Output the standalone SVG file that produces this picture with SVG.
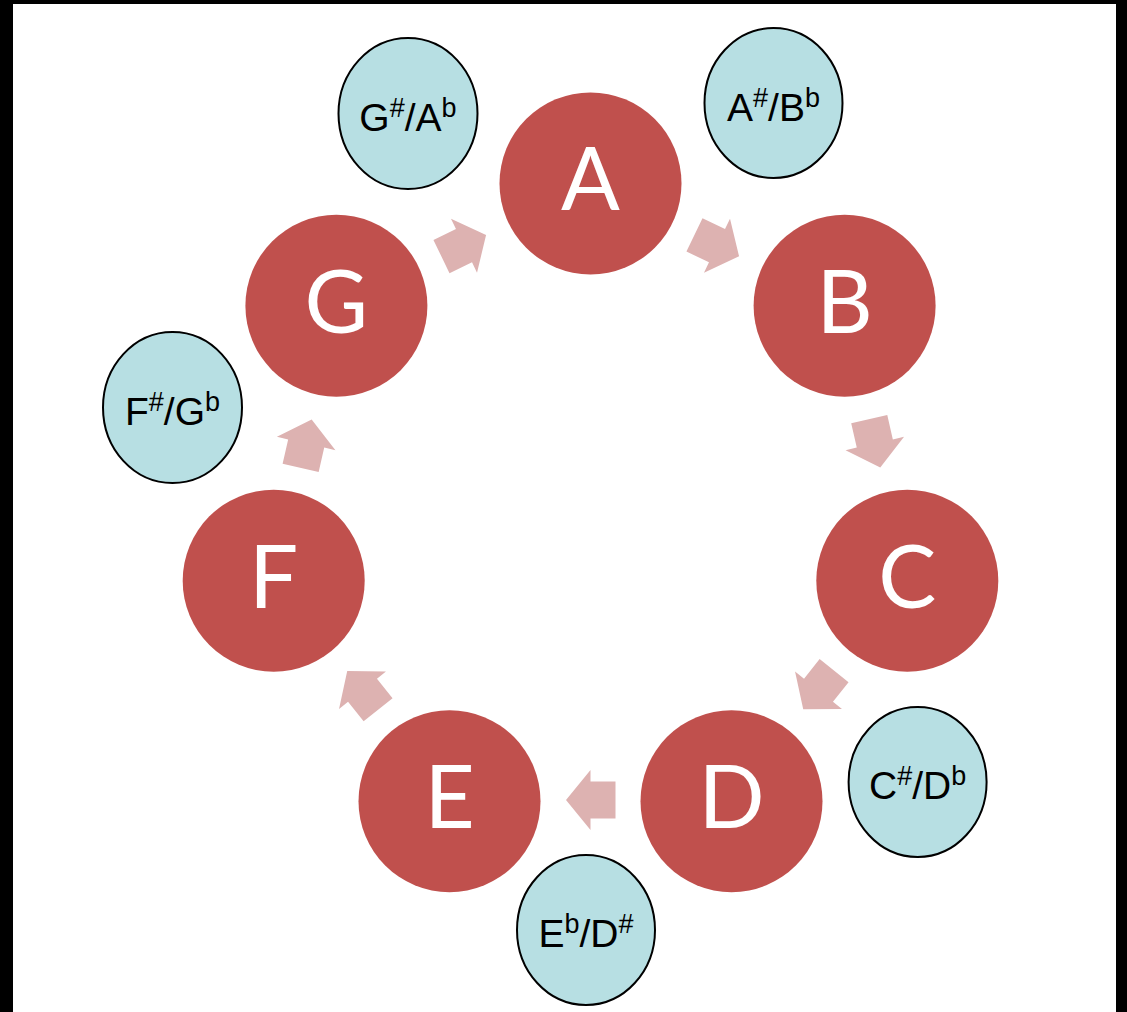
<svg xmlns="http://www.w3.org/2000/svg" xmlns:xlink="http://www.w3.org/1999/xlink" width="1127" height="1012" viewBox="0 0 1127 1012">
  <style>
    .note { fill: #C0504D; }
    .note-label { font-family: Lato, "Open Sans", "Liberation Sans", sans-serif; font-size: 87px; fill: #FFFFFF; text-anchor: middle; }
    .acc { fill: #B7DFE3; stroke: #000000; stroke-width: 2; }
    .acc-label { font-family: "Liberation Sans", Arial, sans-serif; font-size: 39px; fill: #000000; text-anchor: middle; }
    .sup { font-size: 27px; }
    .arrow { fill: #DDB2B1; }
  </style>
  <defs>
    <polygon id="arr" class="arrow" points="-25,-18.5 0,-18.5 0,-30 24.5,0 0,30 0,18.5 -25,18.5"/>
  </defs>

  <rect x="0" y="0" width="1127" height="1012" fill="#000000"/>
  <rect x="13" y="4" width="1103" height="1008" fill="#FFFFFF"/>

  <g id="connectors">
    <use xlink:href="#arr" href="#arr" transform="translate(717.0,245.7) rotate(25.71)"/>
    <use xlink:href="#arr" href="#arr" transform="translate(874.8,443.5) rotate(77.14)"/>
    <use xlink:href="#arr" href="#arr" transform="translate(818.5,690.2) rotate(128.57)"/>
    <use xlink:href="#arr" href="#arr" transform="translate(590.5,800.0) rotate(180)"/>
    <use xlink:href="#arr" href="#arr" transform="translate(362.5,690.2) rotate(231.43)"/>
    <use xlink:href="#arr" href="#arr" transform="translate(306.2,443.5) rotate(282.86)"/>
    <use xlink:href="#arr" href="#arr" transform="translate(464.0,245.7) rotate(334.29)"/>
  </g>

  <g id="node-A">
    <circle class="note" cx="590.5" cy="183.4" r="91"/>
    <text class="note-label" x="590.5" y="210.4">A</text>
  </g>
  <g id="node-B">
    <circle class="note" cx="844.6" cy="305.8" r="91"/>
    <text class="note-label" x="844.6" y="332.8">B</text>
  </g>
  <g id="node-C">
    <circle class="note" cx="907.3" cy="580.7" r="91"/>
    <text class="note-label" x="907.3" y="607.7">C</text>
  </g>
  <g id="node-D">
    <circle class="note" cx="731.5" cy="801.2" r="91"/>
    <text class="note-label" x="731.5" y="828.2">D</text>
  </g>
  <g id="node-E">
    <circle class="note" cx="449.5" cy="801.2" r="91"/>
    <text class="note-label" x="449.5" y="828.2">E</text>
  </g>
  <g id="node-F">
    <circle class="note" cx="273.7" cy="580.7" r="91"/>
    <text class="note-label" x="273.7" y="607.7">F</text>
  </g>
  <g id="node-G">
    <circle class="note" cx="336.4" cy="305.8" r="91"/>
    <text class="note-label" x="336.4" y="332.8">G</text>
  </g>

  <g id="acc-GsAb">
    <ellipse class="acc" cx="408" cy="113.5" rx="69.5" ry="75.5"/>
    <text class="acc-label" x="408" y="130.5">G<tspan class="sup" dy="-14">#</tspan><tspan dy="14">/A</tspan><tspan class="sup" dy="-14">b</tspan></text>
  </g>
  <g id="acc-AsBb">
    <ellipse class="acc" cx="773.5" cy="103" rx="69" ry="75"/>
    <text class="acc-label" x="773.5" y="120.5">A<tspan class="sup" dy="-14">#</tspan><tspan dy="14">/B</tspan><tspan class="sup" dy="-14">b</tspan></text>
  </g>
  <g id="acc-FsGb">
    <ellipse class="acc" cx="172.5" cy="407.5" rx="69.5" ry="75.5"/>
    <text class="acc-label" x="172.5" y="424.5">F<tspan class="sup" dy="-14">#</tspan><tspan dy="14">/G</tspan><tspan class="sup" dy="-14">b</tspan></text>
  </g>
  <g id="acc-CsDb">
    <ellipse class="acc" cx="917.6" cy="782" rx="69" ry="75"/>
    <text class="acc-label" x="917.6" y="799">C<tspan class="sup" dy="-14">#</tspan><tspan dy="14">/D</tspan><tspan class="sup" dy="-14">b</tspan></text>
  </g>
  <g id="acc-EbDs">
    <ellipse class="acc" cx="586" cy="930" rx="69" ry="75"/>
    <text class="acc-label" x="586" y="947">E<tspan class="sup" dy="-14">b</tspan><tspan dy="14">/D</tspan><tspan class="sup" dy="-14">#</tspan></text>
  </g>
</svg>
